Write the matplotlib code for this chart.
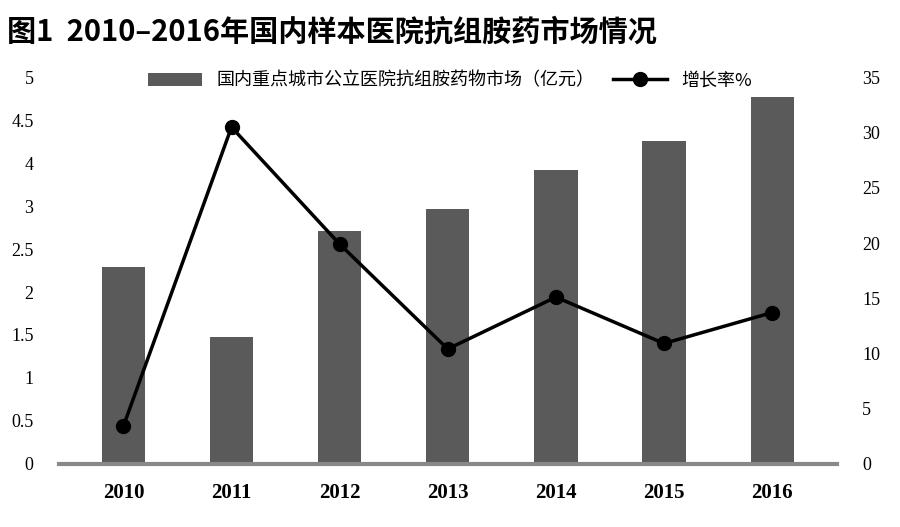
import matplotlib
matplotlib.use("Agg")
import matplotlib.pyplot as plt

plt.rcParams['font.family'] = ['Noto Sans CJK SC', 'DejaVu Sans']

years = ['2010', '2011', '2012', '2013', '2014', '2015', '2016']
market = [2.29, 1.48, 2.71, 2.97, 3.42, 3.76, 4.27]
growth = [3.4, 30.5, 19.9, 10.4, 15.1, 10.9, 13.7]
left_ticks = [0, 0.5, 1, 1.5, 2, 2.5, 3, 3.5, 4, 4.5]
left_labels = ['0', '0.5', '1', '1.5', '2', '2.5', '3', '4', '4.5', '5']
right_ticks = [0, 5, 10, 15, 20, 25, 30, 35]

fig = plt.figure(figsize=(9, 5.27), dpi=100)
ax = fig.add_axes([0.065, 0.12, 0.865, 0.733])
x = range(len(years))
ax.bar(x, market, width=0.4, color='#5a5a5a', label='国内重点城市公立医院抗组胺药物市场（亿元）')
ax.set_ylim(0, 4.5)
ax.set_xlim(-0.6, 6.6)
ax.set_yticks(left_ticks)
ax.set_yticklabels(left_labels, fontsize=13, family=['Liberation Serif'])
ax.set_xticks(list(x))
ax.set_xticklabels(years, fontsize=15, fontweight='bold', family=['Liberation Serif'])
ax.tick_params(length=0, pad=14)
ax.tick_params(axis='y', pad=18)
for s in ['top', 'right', 'left']:
    ax.spines[s].set_visible(False)
ax.spines['bottom'].set_color('#888888')
ax.spines['bottom'].set_linewidth(3)

ax2 = ax.twinx()
ax2.plot(x, growth, color='black', lw=2.5, marker='o', ms=10, label='增长率%')
ax2.set_ylim(0, 35)
ax2.set_yticks(right_ticks)
ax2.set_yticklabels([str(t) for t in right_ticks], fontsize=13, family=['Liberation Serif'])
ax2.tick_params(length=0, pad=18)
for s in ['top', 'right', 'left', 'bottom']:
    ax2.spines[s].set_visible(False)

h1, l1 = ax.get_legend_handles_labels()
h2, l2 = ax2.get_legend_handles_labels()
fig.legend(h1 + h2, l1 + l2, loc='upper center', bbox_to_anchor=(0.5, 0.895), ncol=2,
           frameon=False, fontsize=13, handlelength=3, columnspacing=1.0)

fig.text(0.008, 0.94, '图1  2010–2016年国内样本医院抗组胺药市场情况', fontsize=21, fontweight='bold',
         family=['Noto Sans CJK SC', 'DejaVu Sans'], va='center')
fig.savefig('out.png', dpi=100)
